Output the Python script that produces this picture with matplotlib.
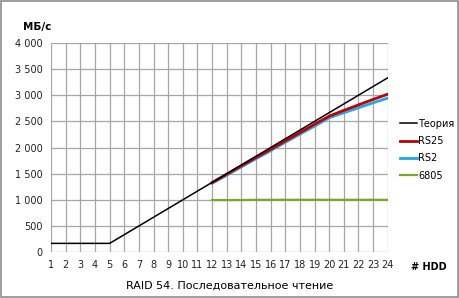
import matplotlib.pyplot as plt
from matplotlib.patches import Rectangle
from matplotlib.ticker import FuncFormatter

hdd = list(range(1, 25))
theory = [167, 167, 167, 167, 167, 333, 500, 667, 833, 1000, 1167, 1333,
          1500, 1667, 1833, 2000, 2167, 2333, 2500, 2667, 2833, 3000, 3167, 3333]
hdd_ctrl = list(range(12, 25))
rs25 = [1330, 1490, 1650, 1810, 1965, 2125, 2285, 2445, 2600, 2710, 2815, 2920, 3020]
rs2 = [1315, 1470, 1630, 1785, 1940, 2100, 2255, 2410, 2570, 2665, 2760, 2855, 2945]
a6805 = [995, 995, 995, 1000, 1000, 1000, 1000, 1000, 1000, 1000, 1000, 1000, 1000]

plt.rcParams['font.family'] = ['DejaVu Sans']

fig = plt.figure(figsize=(4.6, 2.98), dpi=100)
ax = fig.add_axes([0.111, 0.154, 0.732, 0.702])

l4, = ax.plot(hdd_ctrl, a6805, color='#77a82b', lw=1.6, label='6805')
l3, = ax.plot(hdd_ctrl, rs2, color='#1fa8e8', lw=2.0, label='RS2')
l2, = ax.plot(hdd_ctrl, rs25, color='#c00000', lw=2.0, label='RS25')
l1, = ax.plot(hdd, theory, color='black', lw=1.1, label='Теория')

ax.set_xlim(1, 24)
ax.set_ylim(0, 4000)
ax.set_xticks(hdd)
ax.set_yticks(range(0, 4001, 500))
ax.yaxis.set_major_formatter(FuncFormatter(lambda v, p: f'{int(v):,}'.replace(',', ' ')))
ax.grid(True, color='#a6a6a6', lw=0.9)
ax.set_axisbelow(True)
for s in ax.spines.values():
    s.set_visible(False)
ax.tick_params(length=0, labelsize=7, pad=6, colors='#222222')

ax.legend(handles=[l1, l2, l3, l4], loc='center left', bbox_to_anchor=(1.01, 0.49),
          frameon=False, fontsize=7, handlelength=1.8, handletextpad=0.1,
          labelspacing=0.75)

fig.text(0.05, 0.9, 'МБ/с', fontsize=7.5, fontweight='bold')
fig.text(0.893, 0.095, '# HDD', fontsize=7, fontweight='bold')
fig.text(0.5, 0.03, 'RAID 54. Последовательное чтение', fontsize=8, ha='center')

fig.patches.append(Rectangle((0.003, 0.005), 0.993, 0.99, transform=fig.transFigure,
                             fill=False, edgecolor='#8c8c8c', lw=1.2))

fig.savefig('out.png', dpi=100)
